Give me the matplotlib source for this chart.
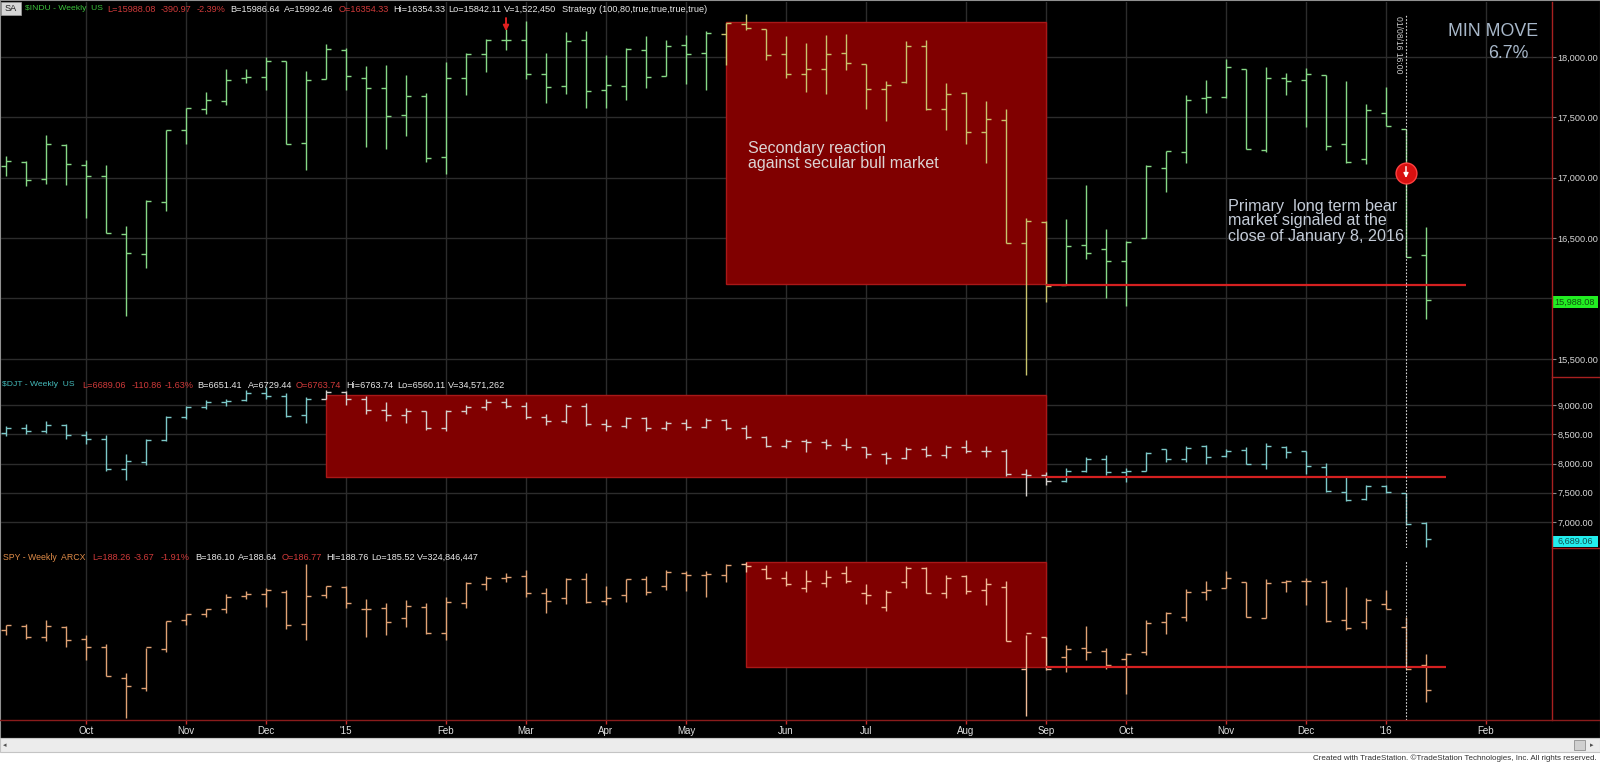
import matplotlib
matplotlib.use("Agg")
import matplotlib.pyplot as plt
import numpy as np
import pandas as pd
from matplotlib.patches import Rectangle
from matplotlib.lines import Line2D

plt.rcParams['font.family'] = ['Liberation Sans', 'DejaVu Sans']

# weekly bars, week ending friday
week_end = pd.date_range('2014-09-05', periods=72, freq='W-FRI')

# $INDU weekly OHLC
indu_open = [17097, 17130, 16990, 17274, 17108, 17015, 16537, 16372, 16799, 17393, 17572, 17636,
             17823, 17834, 17964, 17288, 17818, 18061, 17829, 17743, 17522, 17674, 17172, 17826,
             18028, 18138, 18138, 17862, 17757, 18138, 17730, 17757, 18055, 17843, 18102, 18033,
             18193, 18276, 18235, 18022, 17856, 17898, 18036, 17945, 17732, 17793, 18091, 17567,
             17705, 17379, 17481, 16460, 16634, 16109, 16446, 16408, 16308, 16501, 17083, 17213,
             17663, 17669, 17903, 17227, 17829, 17807, 17848, 17282, 17158, 17536, 17407, 16358]
indu_high = [17177, 17136, 17351, 17280, 17144, 17103, 16598, 16813, 17398, 17580, 17713, 17903,
             17898, 18000, 17964, 17884, 18110, 18075, 17925, 17931, 17848, 17702, 17959, 18036,
             18146, 18235, 18298, 18036, 18207, 18215, 18014, 18075, 18171, 18138, 18185, 18213,
             18282, 18359, 18235, 18171, 18119, 18179, 18193, 17945, 17801, 18132, 18144, 17785,
             17710, 17633, 17572, 16667, 16642, 16661, 16938, 16579, 16476, 17108, 17221, 17683,
             17807, 17986, 17903, 17917, 17870, 17909, 17848, 17801, 17614, 17752, 17407, 16592]
indu_low = [17012, 16935, 16948, 16940, 16670, 16543, 15853, 16256, 16725, 17277, 17531, 17600,
            17785, 17724, 17277, 17062, 17818, 17730, 17255, 17241, 17343, 17131, 17034, 17683,
            17876, 18055, 17821, 17619, 17696, 17580, 17580, 17647, 17746, 17843, 17774, 17730,
            17931, 18221, 17972, 17826, 17710, 17696, 17895, 17572, 17467, 17787, 17564, 17398,
            17282, 17125, 16460, 15367, 15971, 16109, 16330, 16007, 15935, 16501, 16882, 17125,
            17536, 17663, 17241, 17213, 17688, 17420, 17233, 17125, 17117, 17426, 16344, 15833]
indu_close = [17136, 16984, 17280, 17114, 17015, 16543, 16377, 16805, 17393, 17575, 17641, 17812,
              17834, 17964, 17277, 17807, 18063, 17840, 17743, 17514, 17674, 17166, 17826, 18028,
              18144, 18138, 17862, 17752, 18130, 17718, 17765, 18066, 17834, 18091, 18028, 18199,
              18282, 18240, 18014, 17856, 17903, 18022, 17953, 17738, 17765, 18091, 17572, 17691,
              17379, 17484, 16460, 16642, 16101, 16432, 16380, 16308, 16468, 17097, 17219, 17647,
              17669, 17917, 17241, 17826, 17801, 17862, 17263, 17131, 17558, 17426, 16344, 15985]

# $DJT weekly OHLC
djt_open = [8520, 8600, 8560, 8650, 8480, 8420, 7900, 8030, 8400, 8800, 8960, 9050,
            9080, 9200, 9150, 8830, 9110, 9230, 9100, 8920, 8830, 8890, 8610, 8890,
            8960, 9050, 8990, 8800, 8720, 8980, 8680, 8640, 8770, 8600, 8700, 8620,
            8750, 8600, 8450, 8300, 8380, 8360, 8320, 8280, 8160, 8100, 8250, 8140,
            8280, 8210, 8220, 7820, 7800, 7700, 7880, 8080, 7850, 7880, 8248, 8072,
            8299, 8134, 8231, 7993, 8288, 8214, 7947, 7520, 7393, 7622, 7491, 6977]
djt_high = [8640, 8680, 8720, 8680, 8560, 8480, 8160, 8420, 8820, 8990, 9090, 9110,
            9250, 9310, 9200, 9130, 9250, 9240, 9150, 9050, 8950, 8900, 8920, 9000,
            9100, 9120, 9050, 8850, 9010, 9040, 8760, 8800, 8800, 8720, 8760, 8780,
            8760, 8650, 8470, 8420, 8420, 8420, 8430, 8290, 8190, 8280, 8300, 8310,
            8400, 8300, 8250, 7900, 7850, 7920, 8120, 8150, 7920, 8200, 8248, 8299,
            8316, 8248, 8276, 8344, 8305, 8214, 8004, 7764, 7633, 7633, 7491, 7006]
djt_low = [8470, 8500, 8520, 8420, 8330, 7870, 7720, 7980, 8380, 8760, 8930, 8980,
           9070, 9100, 8800, 8700, 9100, 9000, 8850, 8730, 8700, 8580, 8560, 8840,
           8920, 8950, 8760, 8650, 8700, 8640, 8560, 8600, 8560, 8580, 8580, 8600,
           8570, 8420, 8280, 8260, 8200, 8250, 8230, 8100, 8000, 8080, 8120, 8100,
           8180, 8120, 7780, 7450, 7640, 7680, 7850, 7800, 7680, 7880, 8021, 8021,
           7987, 8106, 7987, 7907, 8089, 7822, 7508, 7359, 7376, 7491, 6949, 6568]
djt_close = [8600, 8560, 8660, 8480, 8420, 7900, 8040, 8400, 8800, 8960, 9050, 9070,
             9200, 9150, 8820, 9110, 9230, 9110, 8920, 8830, 8890, 8610, 8890, 8960,
             9050, 8990, 8800, 8720, 8980, 8680, 8640, 8770, 8600, 8700, 8620, 8750,
             8600, 8450, 8300, 8380, 8360, 8320, 8280, 8160, 8100, 8250, 8140, 8280,
             8210, 8220, 7820, 7800, 7700, 7880, 8080, 7850, 7880, 8180, 8072, 8265,
             8111, 8220, 7993, 8299, 8203, 7953, 7537, 7376, 7622, 7520, 6960, 6704]

# SPY weekly OHLC
spy_open = [200.0, 200.8, 198.6, 200.5, 198.1, 196.5, 190.2, 188.2, 196.0, 201.9, 203.3, 204.2,
            206.9, 207.2, 207.7, 201.1, 207.0, 208.7, 204.2, 204.4, 202.4, 204.7, 199.3, 205.4,
            209.4, 210.6, 211.0, 207.5, 206.4, 210.4, 205.9, 207.0, 210.3, 208.9, 211.6, 211.1,
            211.2, 213.5, 212.4, 210.6, 208.6, 209.6, 211.5, 207.5, 204.7, 209.7, 212.6, 207.4,
            211.0, 208.2, 208.8, 192.0, 198.5, 194.5, 196.3, 195.7, 194.1, 195.5, 201.5, 202.65,
            207.6, 208.6, 209.8, 202.3, 209.8, 210.0, 209.8, 201.9, 201.6, 205.2, 200.6, 192.9]
spy_high = [201.0, 201.2, 201.9, 200.8, 199.0, 197.0, 191.1, 196.3, 201.8, 203.3, 204.3, 207.3,
            207.9, 208.5, 208.2, 213.4, 208.9, 208.9, 206.2, 205.5, 206.1, 205.4, 206.6, 209.7,
            211.0, 211.6, 212.2, 208.5, 210.5, 211.5, 208.9, 210.3, 211.0, 212.2, 212.0, 211.9,
            213.4, 213.8, 213.2, 211.9, 212.1, 212.2, 213.0, 209.4, 208.2, 213.0, 212.7, 211.1,
            211.1, 210.6, 210.0, 199.0, 198.6, 196.9, 200.8, 196.3, 195.3, 201.9, 203.55, 208.3,
            209.9, 212.0, 209.8, 210.35, 210.1, 210.5, 210.1, 208.8, 206.5, 208.1, 202.5, 195.0]
spy_low = [199.0, 198.2, 197.6, 196.4, 193.9, 190.5, 181.9, 187.5, 195.5, 200.9, 202.6, 203.5,
           206.3, 204.6, 200.1, 197.9, 206.4, 204.4, 198.6, 199.0, 200.5, 199.1, 197.9, 204.5,
           208.1, 209.8, 206.6, 203.5, 205.3, 205.4, 205.0, 205.6, 207.0, 208.0, 207.8, 206.7,
           209.8, 211.8, 210.4, 208.9, 207.7, 208.8, 209.6, 205.3, 203.9, 208.6, 207.5, 206.4,
           207.3, 205.1, 197.7, 182.4, 191.8, 191.4, 193.8, 191.9, 186.9, 194.9, 199.07, 201.8,
           206.06, 208.45, 202.66, 202.33, 207.6, 205.0, 201.5, 199.9, 200.1, 204.2, 191.9, 185.3]
spy_close = [200.9, 198.6, 200.7, 197.9, 196.5, 190.5, 188.5, 196.4, 201.7, 203.2, 204.2, 206.7,
             207.2, 208.0, 200.9, 206.8, 208.9, 205.4, 204.3, 201.6, 204.9, 199.4, 205.6, 209.6,
             210.6, 210.7, 207.5, 205.8, 210.4, 205.7, 206.4, 210.3, 207.7, 211.8, 211.1, 211.4,
             213.1, 212.9, 210.5, 209.3, 210.0, 210.8, 210.0, 207.0, 207.7, 212.5, 207.5, 210.5,
             207.9, 209.4, 197.6, 199.3, 192.0, 196.0, 195.5, 192.9, 195.0, 201.3, 203.35, 207.76,
             208.1, 210.5, 202.66, 209.6, 209.9, 209.96, 201.7, 200.3, 206.1, 204.2, 191.9, 187.7]

indu_ticks = [15500, 16000, 16500, 17000, 17500, 18000]
indu_tick_labels = ['15,500.00', '', '16,500.00', '17,000.00', '17,500.00', '18,000.00']
djt_ticks = [7000, 7500, 8000, 8500, 9000]
djt_tick_labels = ['7,000.00', '7,500.00', '8,000.00', '8,500.00', '9,000.00']

# boxes: (first bar, last bar, low, high) and support lines (from bar, to bar, level)
indu_box = (36, 52, 16120, 18290)
djt_box = (16, 52, 7775, 9171)
spy_box = (37, 52, 192.3, 213.8)
indu_line = (52, 73, 16112)
djt_line = (52, 72, 7775)
spy_line = (52, 72, 192.3)
signal_bar = 70
signal_price = 17040
arrow_bar = 25

W, H = 1600, 765
fig = plt.figure(figsize=(16, 7.65), dpi=100, facecolor='white')


def fig_box(x0, y0, x1, y1):
    return [x0 / W, 1 - y1 / H, (x1 - x0) / W, (y1 - y0) / H]


def px(x, y):
    return x / W, 1 - y / H


XLIM = (-0.25, 77.3)

bg = fig.add_axes(fig_box(0, 0, 1600, 738))
bg.set_facecolor('black')
bg.set_xticks([])
bg.set_yticks([])
for s in bg.spines.values():
    s.set_color('#909090')

# month ticks (first friday of each month)
tick_dates = pd.date_range('2014-09-05', periods=78, freq='W-FRI')
month_pos = []
month_lab = []
for i, d in enumerate(tick_dates):
    if d.day <= 7 and i > 0:
        month_pos.append(i)
        month_lab.append("'" + d.strftime('%y') if d.month == 1 else d.strftime('%b'))


def make_panel(box, ylim):
    ax = fig.add_axes(fig_box(*box))
    ax.set_facecolor('black')
    ax.patch.set_alpha(0)
    ax.set_xlim(*XLIM)
    ax.set_ylim(*ylim)
    for s in ax.spines.values():
        s.set_visible(False)
    ax.set_xticks(month_pos)
    ax.tick_params(axis='x', length=0, labelbottom=False)
    ax.grid(axis='x', color='#2c2c2c', lw=1)
    ax.set_axisbelow(True)
    return ax


def draw_bars(ax, o, h, l, c, color, box, inner_color):
    x = np.arange(len(o))
    cols = [inner_color if box[0] <= i <= box[1] else color for i in x]
    ax.vlines(x, l, h, colors=cols, lw=1.0, zorder=3)
    ax.hlines(o, x - 0.23, x, colors=cols, lw=1.0, zorder=3)
    ax.hlines(c, x, x + 0.23, colors=cols, lw=1.0, zorder=3)
    ax.add_patch(Rectangle((box[0], box[2]), box[1] - box[0], box[3] - box[2],
                           facecolor='#800000', edgecolor='#a81818', lw=1, zorder=2))


def right_axis(ax, ticks, labels):
    ax.yaxis.tick_right()
    ax.set_yticks(ticks)
    ax.set_yticklabels(labels)
    ax.tick_params(axis='y', colors='#8a8a8a', labelcolor='#d8d8d8', labelsize=6.6,
                   length=3, pad=1)
    ax.grid(axis='y', color='#2c2c2c', lw=1)


ax_top = make_panel((1, 2, 1552, 377), (15350, 18455))
ax_mid = make_panel((1, 377, 1552, 548), (6556, 9479))
ax_bot = make_panel((1, 548, 1552, 720), (181.58, 216.67))

draw_bars(ax_top, indu_open, indu_high, indu_low, indu_close, '#86d886', indu_box, '#c8c46c')
draw_bars(ax_mid, djt_open, djt_high, djt_low, djt_close, '#7cc8c8', djt_box, '#d4d0cc')
draw_bars(ax_bot, spy_open, spy_high, spy_low, spy_close, '#e0a274', spy_box, '#f0bc98')
right_axis(ax_top, indu_ticks, indu_tick_labels)
right_axis(ax_mid, djt_ticks, djt_tick_labels)
ax_bot.set_yticks([])

for ax, ln in ((ax_top, indu_line), (ax_mid, djt_line), (ax_bot, spy_line)):
    ax.hlines(ln[2], ln[0], ln[1], colors='#d42020', lw=1.6, zorder=4)

# signal marker on the 01/08/16 bar
ax_top.axvline(signal_bar, 0, 0.968, color='#d8d8d8', ls=(0, (1.5, 1.5)), lw=0.8, zorder=5)
ax_mid.axvline(signal_bar, color='#d8d8d8', ls=(0, (1.5, 1.5)), lw=0.8, zorder=5)
ax_bot.axvline(signal_bar, 0, 0.93, color='#d8d8d8', ls=(0, (1.5, 1.5)), lw=0.8, zorder=5)
ax_top.plot([signal_bar], [signal_price], 'o', ms=15, mfc='#d81010', mec='#ff4040', zorder=6)
ax_top.annotate('', xy=(signal_bar, signal_price - 65), xytext=(signal_bar, signal_price + 75),
                arrowprops=dict(arrowstyle='-|>', color='white', lw=1, mutation_scale=7), zorder=7)
ax_top.annotate('', xy=(arrow_bar, 18190), xytext=(arrow_bar, 18345),
                arrowprops=dict(arrowstyle='-|>', color='#e02020', lw=1.4, mutation_scale=8),
                zorder=7)

# date strip
ax_dt = fig.add_axes(fig_box(1, 720, 1552, 738))
ax_dt.set_facecolor('black')
ax_dt.set_xlim(*XLIM)
ax_dt.set_ylim(0, 1)
ax_dt.axis('off')
for p, lab in zip(month_pos, month_lab):
    ax_dt.vlines(p, 0.8, 1.0, colors='#c03030', lw=1)
    ax_dt.text(p, 0.4, lab, color='#e0e0e0', fontsize=7, ha='center', va='center')

# frame lines of the price scale
fig.add_artist(Line2D([1552 / W, 1552 / W], [1 - 720 / H, 1 - 2 / H], color='#a82020', lw=1))
for yy in (377, 548):
    fig.add_artist(Line2D([1552 / W, 1], [1 - yy / H] * 2, color='#a82020', lw=1))
fig.add_artist(Line2D([0, 1], [1 - 720 / H] * 2, color='#8a1c1c', lw=1))

# last price boxes
fig.add_artist(Rectangle(px(1553, 308), 45 / W, 12 / H, facecolor='#22ee22', edgecolor='none'))
fig.text(*px(1575, 302.5), '15,988.08', color='#105010', fontsize=6.6, ha='center', va='center')
fig.add_artist(Rectangle(px(1553, 547), 45 / W, 11 / H, facecolor='#22eeee', edgecolor='none'))
fig.text(*px(1575, 541.5), '6,689.06', color='#105050', fontsize=6.6, ha='center', va='center')

# headers
GREEN, RED, WHITE = '#3cc43c', '#d03a3a', '#e8e8e8'


def header(y, parts, first_size):
    for k, (x, s, col) in enumerate(parts):
        fig.text(*px(x, y), s, color=col, fontsize=first_size if k == 0 else 6.6,
                 ha='left', va='center')


fig.add_artist(Rectangle(px(1, 15), 20 / W, 13 / H, facecolor='#d6d6d6', edgecolor='#a0a0a0', lw=0.5))
fig.text(*px(11, 8.5), 'SA', color='#202020', fontsize=6.6, ha='center', va='center')
header(9, [(25, '\\$INDU - Weekly  US', GREEN), (107, 'L=15988.08', RED), (161, '-390.97', RED),
           (197, '-2.39%', RED), (230, 'B=15986.64', WHITE), (284, 'A=15992.46', WHITE),
           (339, 'O=16354.33', RED), (393, 'Hi=16354.33', WHITE), (448, 'Lo=15842.11', WHITE),
           (504, 'V=1,522,450', WHITE), (562, 'Strategy (100,80,true,true,true,true)', WHITE)], 6.1)
header(385, [(2, '\\$DJT - Weekly  US', '#44bcbc'), (82, 'L=6689.06', RED), (132, '-110.86', RED),
             (165, '-1.63%', RED), (197, 'B=6651.41', WHITE), (248, 'A=6729.44', WHITE),
             (296, 'O=6763.74', RED), (346, 'Hi=6763.74', WHITE), (397, 'Lo=6560.11', WHITE),
             (448, 'V=34,571,262', WHITE)], 6.1)
header(557, [(3, 'SPY - Weekly  ARCX', '#e08c48'), (92, 'L=188.26', RED), (134, '-3.67', RED),
             (161, '-1.91%', RED), (195, 'B=186.10', WHITE), (238, 'A=188.64', WHITE),
             (282, 'O=186.77', RED), (326, 'HI=188.76', WHITE), (371, 'Lo=185.52', WHITE),
             (417, 'V=324,846,447', WHITE)], 6.3)

# annotations
fig.text(*px(748, 156), 'Secondary reaction\nagainst secular bull market', color='#dcd4d4',
         fontsize=11.5, ha='left', va='center', linespacing=0.92)
fig.text(*px(1228, 221), 'Primary  long term bear\nmarket signaled at the\nclose of January 8, 2016',
         color='#c4ccd8', fontsize=11.6, ha='left', va='center', linespacing=1.0)
fig.text(*px(1493, 32), 'MIN MOVE', color='#a8b8ca', fontsize=12.8, ha='center', va='center')
fig.text(*px(1508, 54), '6.7%', color='#a8b8ca', fontsize=12.8, ha='center', va='center')
fig.text(*px(1399, 45), '01/08/16 16:00', color='#c8c8c8', fontsize=6.2, ha='center', va='center',
         rotation=-90)

# scroll bar and footer
fig.add_artist(Rectangle(px(0, 752), 1, 14 / H, facecolor='#ececec', edgecolor='#c4c4c4', lw=0.8))
fig.text(*px(5, 745), '\u25c2', color='#505050', fontsize=5, ha='center', va='center',
         family=['DejaVu Sans'])
fig.text(*px(1592, 745), '\u25b8', color='#505050', fontsize=5, ha='center', va='center',
         family=['DejaVu Sans'])
fig.add_artist(Rectangle(px(1574, 750), 11 / W, 10 / H, facecolor='#d0d0d0', edgecolor='#909090', lw=0.6))
fig.text(*px(1597, 758), 'Created with TradeStation. \u00a9TradeStation Technologies, Inc. All rights reserved.',
         color='#303030', fontsize=5.8, ha='right', va='center')

fig.savefig('out.png', dpi=100, facecolor='white')
